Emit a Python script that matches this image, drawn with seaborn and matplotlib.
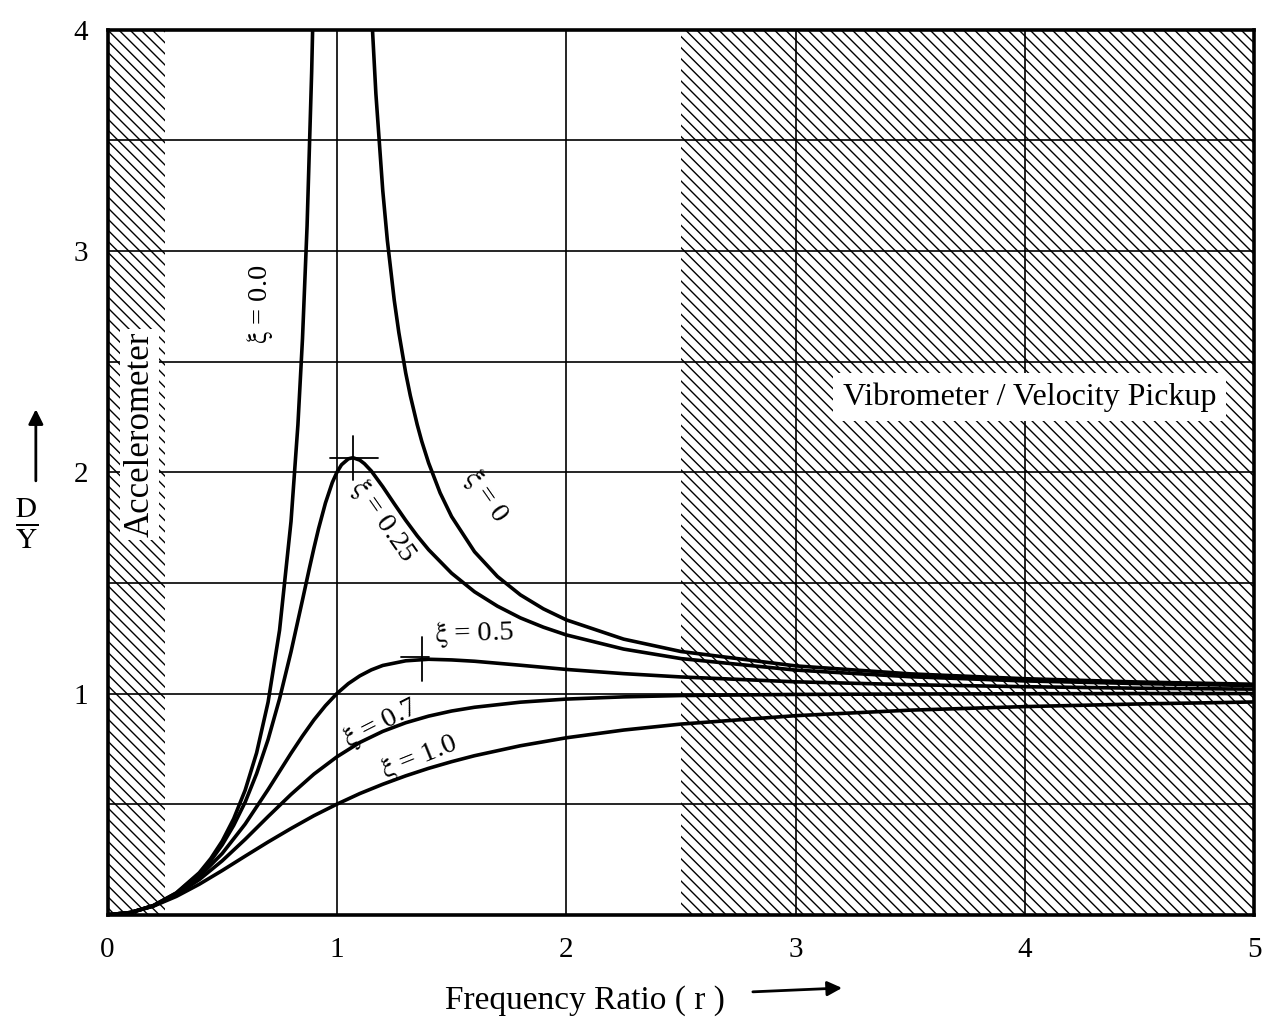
import numpy as np
import pandas as pd
import matplotlib
matplotlib.use("Agg")
import matplotlib.pyplot as plt
import seaborn as sns

# ---------------- data ----------------
r_z0_left = [0, 0.1, 0.2, 0.3, 0.4, 0.45, 0.5, 0.55, 0.6, 0.65, 0.7, 0.75, 0.8, 0.83, 0.85, 0.87, 0.89, 0.9]
dy_z0_left = [0, 0.010, 0.042, 0.099, 0.190, 0.254, 0.333, 0.434, 0.563, 0.732, 0.961, 1.286, 1.778, 2.214, 2.604, 3.114, 3.810, 4.263]

r_z0_right = [1.12, 1.13, 1.15, 1.17, 1.2, 1.22, 1.25, 1.27, 1.3, 1.32, 1.35, 1.37, 1.4, 1.45, 1.5, 1.6, 1.7, 1.8, 1.9, 2.0, 2.25, 2.5, 3.0, 3.5, 4.0, 4.5, 5.0]
dy_z0_right = [4.93, 4.611, 4.10, 3.711, 3.273, 3.048, 2.778, 2.632, 2.449, 2.347, 2.216, 2.140, 2.042, 1.907, 1.80, 1.641, 1.529, 1.446, 1.383, 1.333, 1.246, 1.190, 1.125, 1.089, 1.067, 1.052, 1.042]

r_z025 = [0, 0.1, 0.2, 0.3, 0.4, 0.45, 0.5, 0.55, 0.6, 0.65, 0.7, 0.75, 0.8, 0.85, 0.88, 0.9, 0.92, 0.95, 0.98, 1.0, 1.02, 1.05, 1.07, 1.1, 1.12, 1.15, 1.2, 1.25, 1.3, 1.35, 1.4, 1.5, 1.6, 1.7, 1.8, 1.9, 2.0, 2.25, 2.5, 3.0, 3.5, 4.0, 4.5, 5.0]
dy_z025 = [0, 0.010, 0.041, 0.098, 0.185, 0.244, 0.316, 0.404, 0.509, 0.638, 0.792, 0.976, 1.189, 1.423, 1.566, 1.658, 1.745, 1.861, 1.954, 2.000, 2.034, 2.061, 2.066, 2.055, 2.039, 2.006, 1.935, 1.858, 1.783, 1.713, 1.650, 1.544, 1.460, 1.395, 1.342, 1.300, 1.265, 1.201, 1.158, 1.106, 1.076, 1.057, 1.045, 1.036]

r_z05 = [0, 0.1, 0.2, 0.3, 0.4, 0.5, 0.6, 0.7, 0.75, 0.8, 0.85, 0.9, 0.95, 1.0, 1.05, 1.1, 1.15, 1.2, 1.3, 1.4, 1.5, 1.6, 1.8, 2.0, 2.25, 2.5, 3.0, 3.5, 4.0, 4.5, 5.0]
dy_z05 = [0, 0.010, 0.041, 0.094, 0.172, 0.277, 0.410, 0.566, 0.648, 0.730, 0.808, 0.881, 0.945, 1.000, 1.045, 1.080, 1.107, 1.127, 1.148, 1.155, 1.152, 1.146, 1.128, 1.109, 1.090, 1.075, 1.053, 1.040, 1.031, 1.024, 1.020]

r_z07 = [0, 0.1, 0.2, 0.3, 0.4, 0.5, 0.6, 0.7, 0.8, 0.9, 1.0, 1.1, 1.2, 1.3, 1.4, 1.5, 1.6, 1.8, 2.0, 2.25, 2.5, 3.0, 3.5, 4.0, 4.5, 5.0]
dy_z07 = [0, 0.010, 0.040, 0.090, 0.159, 0.244, 0.341, 0.444, 0.544, 0.636, 0.714, 0.779, 0.829, 0.868, 0.898, 0.921, 0.938, 0.961, 0.975, 0.985, 0.991, 0.996, 0.998, 0.999, 1.000, 1.000]

r_z10 = [0, 0.1, 0.2, 0.3, 0.4, 0.5, 0.6, 0.7, 0.8, 0.9, 1.0, 1.1, 1.2, 1.3, 1.4, 1.5, 1.6, 1.8, 2.0, 2.25, 2.5, 3.0, 3.5, 4.0, 4.5, 5.0]
dy_z10 = [0, 0.010, 0.039, 0.083, 0.138, 0.200, 0.265, 0.329, 0.390, 0.448, 0.500, 0.548, 0.590, 0.628, 0.662, 0.692, 0.719, 0.764, 0.800, 0.835, 0.862, 0.900, 0.925, 0.941, 0.953, 0.962]

x_ticks = [0, 1, 2, 3, 4, 5]
y_ticks = [1, 2, 3, 4]
accel_band = (0, 0.25)
vibro_band = (2.5, 5)

# ---------------- style ----------------
sns.set_theme(style="white")
plt.rcParams["font.family"] = ["Liberation Serif", "DejaVu Serif"]
plt.rcParams["mathtext.fontset"] = "stix"
plt.rcParams["hatch.linewidth"] = 1.0
plt.rcParams["hatch.color"] = "black"
plt.rcParams["text.color"] = "black"
plt.rcParams["axes.labelcolor"] = "black"
plt.rcParams["xtick.color"] = "black"
plt.rcParams["ytick.color"] = "black"

fig = plt.figure(figsize=(12.8, 10.29), dpi=100)
ax = fig.add_axes([0.084, 0.111, 0.896, 0.860])

# hatched zones
for lo, hi in (accel_band, vibro_band):
    ax.axvspan(lo, hi, facecolor="white", edgecolor="black", hatch="\\\\\\", linewidth=0, zorder=0.2)

# curves
lw = 2.6
curves = [
    (r_z0_left, dy_z0_left),
    (r_z0_right, dy_z0_right),
    (r_z025, dy_z025),
    (r_z05, dy_z05),
    (r_z07, dy_z07),
    (r_z10, dy_z10),
]
for rr, dd in curves:
    df = pd.DataFrame({"r": rr, "DY": dd})
    sns.lineplot(data=df, x="r", y="DY", color="black", linewidth=lw, sort=False,
                 estimator=None, ax=ax, zorder=3)

# peak markers (derived from data)
i25 = int(np.argmax(dy_z025))
pr, pv = r_z025[i25], dy_z025[i25]
ax.plot([pr - 0.1, pr + 0.11], [pv, pv], color="black", lw=1.3, zorder=3)
ax.plot([pr, pr], [pv - 0.1, pv + 0.1], color="black", lw=1.3, zorder=3)
i5 = int(np.argmax(dy_z05))
pr5, pv5 = r_z05[i5], dy_z05[i5]
ax.plot([pr5 - 0.12, pr5], [pv5 + 0.01, pv5 + 0.01], color="black", lw=1.3, zorder=3)
ax.plot([pr5 - 0.03, pr5 - 0.03], [pv5 - 0.1, pv5 + 0.1], color="black", lw=1.3, zorder=3)

# axes, grid
ax.set_xlim(0, 5)
ax.set_ylim(0, 4)
ax.set_xticks(x_ticks)
ax.set_xticklabels([str(t) for t in x_ticks])
ax.set_yticks(y_ticks)
ax.set_yticklabels([str(t) for t in y_ticks])
ax.set_yticks([0.5, 1.5, 2.5, 3.5], minor=True)
ax.set_axisbelow(True)
ax.grid(True, which="both", color="black", linewidth=1.2)
ax.tick_params(axis="both", which="both", length=0, labelsize=21, colors="black")
ax.tick_params(axis="x", pad=16)
ax.tick_params(axis="y", pad=14)
for s in ax.spines.values():
    s.set_visible(True)
    s.set_color("black")
    s.set_linewidth(2.6)
    s.set_zorder(4)
ax.set_xlabel("")
ax.set_ylabel("")

# curve labels
lab_fs = 20.5
tk = dict(fontsize=lab_fs, ha="center", va="center", rotation_mode="anchor", zorder=5, color="black")
xi = r"$\mathrm{\xi}$"
ax.text(0.665, 2.76, xi + " = 0.0", rotation=90, **tk)
ax.text(1.65, 1.89, xi + " = 0", rotation=-55, **tk)
ax.text(1.20, 1.78, xi + " = 0.25", rotation=-55, **tk)
ax.text(1.60, 1.27, xi + " = 0.5", rotation=2, **tk)
ax.text(1.19, 0.865, xi + " = 0.7", rotation=27, **tk)
ax.text(1.36, 0.71, xi + " = 1.0", rotation=22, **tk)

# zone labels
ax.text(0.14, 2.17, "Accelerometer", rotation=90, fontsize=25, ha="center", va="center", zorder=5,
        color="black", bbox=dict(facecolor="white", edgecolor="none", pad=2))
ax.text(4.02, 2.34, "Vibrometer / Velocity Pickup", fontsize=23, ha="center", va="center", zorder=5,
        color="black", bbox=dict(facecolor="white", edgecolor="none", pad=7))

# axis titles with arrows
fig.text(0.457, 0.028, "Frequency Ratio ( r )", fontsize=24, ha="center", va="center", color="black")
fig.patches.append(matplotlib.patches.FancyArrowPatch((0.586, 0.036), (0.66, 0.040), transform=fig.transFigure,
                   arrowstyle="-|>", mutation_scale=22, lw=2, color="black"))
fig.text(0.021, 0.49, r"$\frac{\mathrm{D}}{\mathrm{Y}}$", fontsize=30, ha="center", va="center", color="black")
fig.patches.append(matplotlib.patches.FancyArrowPatch((0.028, 0.53), (0.028, 0.605), transform=fig.transFigure,
                   arrowstyle="-|>", mutation_scale=22, lw=2, color="black"))

fig.savefig("out.png", dpi=100, facecolor="white")
